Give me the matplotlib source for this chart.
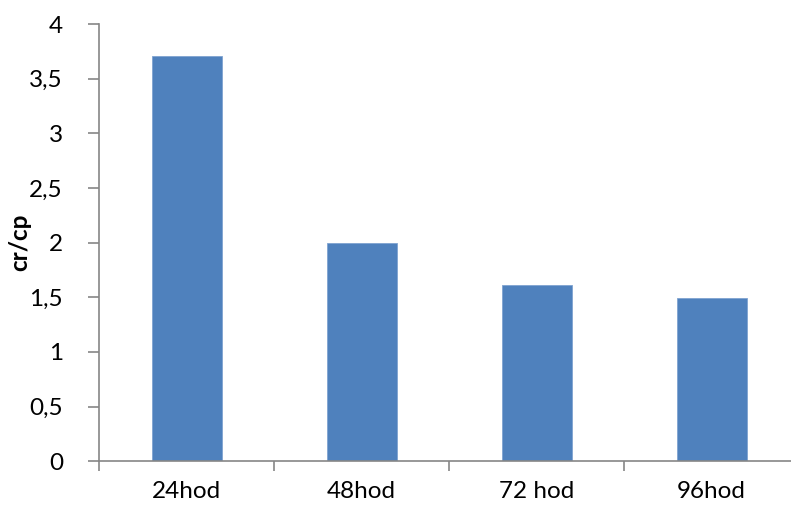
import matplotlib
matplotlib.use('Agg')
from matplotlib import pyplot as plt
from matplotlib.ticker import FixedLocator, FuncFormatter

# data
categories = ['24hod', '48hod', '72 hod', '96hod']
values = [3.71, 2.0, 1.61, 1.49]
y_ticks = [0, 0.5, 1, 1.5, 2, 2.5, 3, 3.5, 4]

plt.rcParams['font.family'] = ['Lato', 'DejaVu Sans']

fig = plt.figure(figsize=(7.91, 5.07), dpi=100)
ax = fig.add_axes([0.1252, 0.0901, 0.885, 0.8625])

x = range(len(categories))
ax.bar(x, values, width=0.4, color='#4F81BD', edgecolor='#7FA3D0', linewidth=0.6)

ax.set_xlim(-0.5, len(categories) - 0.5)
ax.set_ylim(0, 4)
ax.set_yticks(y_ticks)
ax.yaxis.set_major_formatter(FuncFormatter(lambda v, p: ('%g' % v).replace('.', ',')))
ax.set_xticks(list(x))
ax.set_xticklabels(categories)
ax.xaxis.set_minor_locator(FixedLocator([i - 0.5 for i in range(len(categories) + 1)]))

for side in ['top', 'right']:
    ax.spines[side].set_visible(False)
for side in ['left', 'bottom']:
    ax.spines[side].set_color('#868686')
    ax.spines[side].set_linewidth(1.2)

ax.tick_params(axis='y', direction='out', length=8, width=1.2, color='#868686',
               labelsize=17.5, pad=18)
ax.tick_params(axis='x', which='major', length=0, labelsize=17.5, pad=14)
ax.tick_params(axis='x', which='minor', direction='out', length=7, width=1.2, color='#868686')

ax.set_ylabel('cr/cp', fontsize=17.5, fontweight='bold')
ax.yaxis.set_label_coords(-0.097, 0.5)

fig.savefig('out.png', dpi=100)
